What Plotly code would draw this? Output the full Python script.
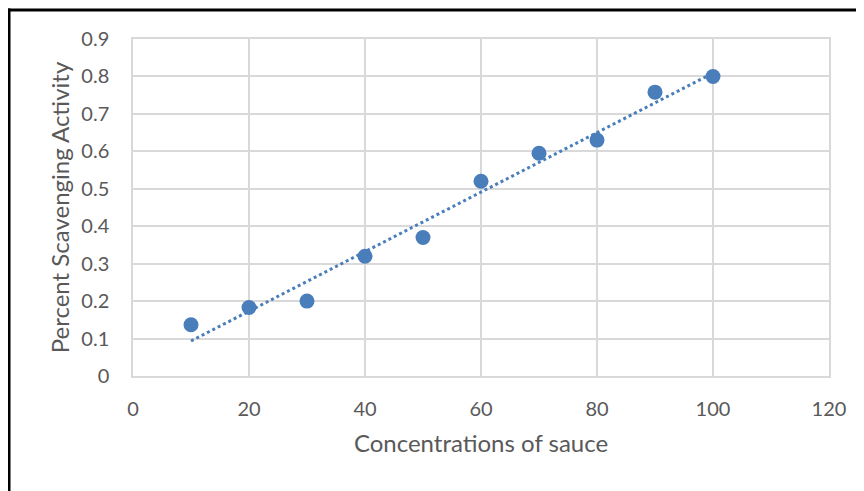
import numpy as np
import plotly.graph_objects as go

concentration = [10, 20, 30, 40, 50, 60, 70, 80, 90, 100]
scavenging = [0.137, 0.183, 0.200, 0.320, 0.370, 0.520, 0.595, 0.630, 0.758, 0.800]

slope, intercept = np.polyfit(concentration, scavenging, 1)
trend_x = [concentration[0], concentration[-1]]
trend_y = [slope * x + intercept for x in trend_x]

blue = "#4A7EBB"
font_fam = "Lato, 'Open Sans', sans-serif"

# page body has an 8px offset; compensate so the plot area lands at x 133..829, y 39..376
L, R, T, B = 125, 43, 31, 123
W, H = 864, 491
pw, ph = W - L - R, H - T - B

fig = go.Figure()
fig.add_trace(go.Scatter(x=trend_x, y=trend_y, mode="lines",
                         line=dict(color=blue, width=3, dash="dot"),
                         showlegend=False, hoverinfo="skip"))
fig.add_trace(go.Scatter(x=concentration, y=scavenging, mode="markers",
                         marker=dict(color=blue, size=15),
                         showlegend=False))

bx = 1.0   # border left, in div pixels
by = 2.0   # border top, in div pixels
fig.update_layout(
    width=W, height=H,
    margin=dict(l=L, r=R, t=T, b=B),
    paper_bgcolor="white", plot_bgcolor="white",
    font=dict(family=font_fam, color="#595959", size=20),
    xaxis=dict(range=[0, 120], dtick=20, showgrid=True, gridcolor="#D9D9D9", gridwidth=1.5,
               showline=True, linecolor="#D9D9D9", linewidth=1.5, mirror=True,
               zeroline=False, ticks="outside", ticklen=14, tickcolor="rgba(0,0,0,0)",
               title=dict(text="Concentrations of sauce", font=dict(size=24), standoff=16),
               tickfont=dict(size=20)),
    yaxis=dict(range=[0, 0.9], dtick=0.1, showgrid=True, gridcolor="#D9D9D9", gridwidth=1.5,
               showline=True, linecolor="#D9D9D9", linewidth=1.5, mirror=True,
               zeroline=False, ticks="outside", ticklen=18, tickcolor="rgba(0,0,0,0)",
               tickformat=".1~f",
               title=dict(text="Percent Scavenging Activity", font=dict(size=24), standoff=5),
               tickfont=dict(size=20)),
    shapes=[
        dict(type="line", xref="paper", yref="paper",
             x0=(bx - 1.5 - L) / pw, x1=(W + 20 - L) / pw,
             y0=(H - B - by) / ph, y1=(H - B - by) / ph,
             line=dict(color="black", width=3)),
        dict(type="line", xref="paper", yref="paper",
             x0=(bx - L) / pw, x1=(bx - L) / pw,
             y0=(H - B - by + 1.5) / ph, y1=-(B + 20) / ph,
             line=dict(color="black", width=3)),
    ],
)
fig.write_html("out.html")
